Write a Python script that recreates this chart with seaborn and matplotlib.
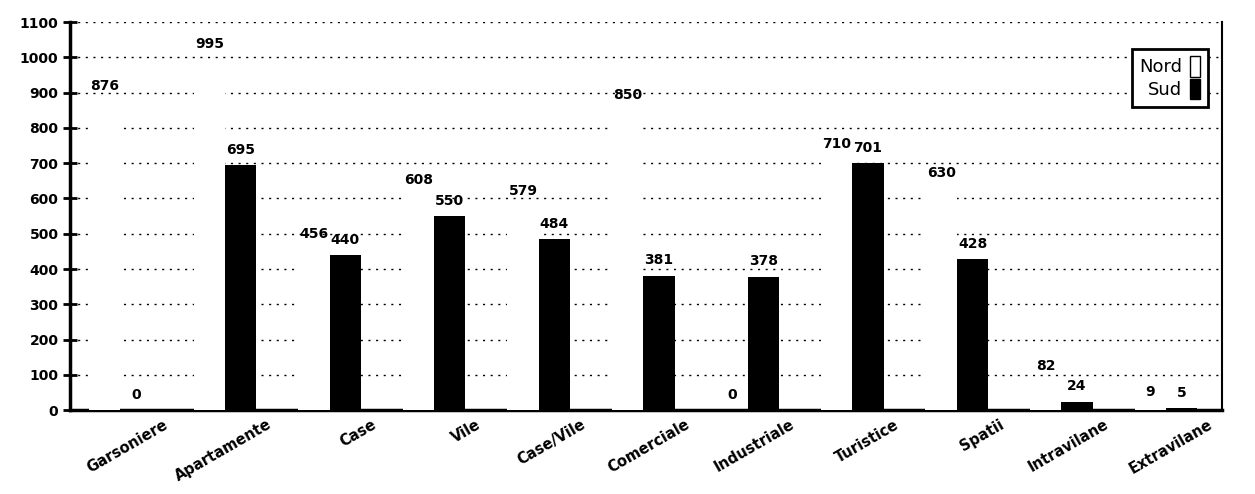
import matplotlib
matplotlib.use("Agg")
import matplotlib.pyplot as plt
import matplotlib.transforms as mtransforms
import seaborn as sns
import pandas as pd
from matplotlib.patches import Patch

categories = ["Garsoniere", "Apartamente", "Case", "Vile", "Case/Vile", "Comerciale",
              "Industriale", "Turistice", "Spatii", "Intravilane", "Extravilane"]
nord = [876, 995, 456, 608, 579, 850, 0, 710, 630, 82, 9]
sud = [0, 695, 440, 550, 484, 381, 378, 701, 428, 24, 5]
yticks = list(range(0, 1101, 100))

df = pd.DataFrame({
    "Categoria": categories * 2,
    "Valore": nord + sud,
    "Zona": ["Nord"] * len(categories) + ["Sud"] * len(categories),
})

sns.set_theme(style="white")
plt.rcParams["font.family"] = ["DejaVu Sans"]
plt.rcParams["text.color"] = "black"
plt.rcParams["xtick.color"] = "black"
plt.rcParams["ytick.color"] = "black"

fig, ax = plt.subplots(figsize=(12.55, 4.94), dpi=100)
fig.subplots_adjust(left=0.056, right=0.974, bottom=0.17, top=0.955)

sns.barplot(data=df, x="Categoria", y="Valore", hue="Zona", order=categories,
            hue_order=["Nord", "Sud"], palette={"Nord": "white", "Sud": "black"},
            width=0.6, edgecolor="none", linewidth=0, ax=ax, legend=False, zorder=3)

for cont in ax.containers:
    ax.bar_label(cont, fmt="%d", padding=6, fontsize=10, fontweight="bold",
                 color="black", zorder=4)

ax.set_ylim(0, 1100)
ax.set_xlim(-0.48, 10.54)
ax.set_yticks(yticks)
ax.set_yticklabels([str(v) for v in yticks], fontsize=10, fontweight="bold", color="black")
ax.yaxis.grid(True, linestyle=(0, (1.5, 4)), color="black", linewidth=1.0, zorder=0)
ax.xaxis.grid(False)
ax.tick_params(axis="y", direction="inout", length=10, width=2, left=True)
ax.tick_params(axis="x", length=0)
ax.set_xticks(range(len(categories)))
ax.set_xticklabels(categories, rotation=30, ha="right", rotation_mode="anchor",
                   fontsize=10.5, fontweight="bold", color="black")
offset = mtransforms.ScaledTranslation(0.42, -0.02, fig.dpi_scale_trans)
for lbl in ax.get_xticklabels():
    lbl.set_transform(lbl.get_transform() + offset)
ax.set_xlabel("")
ax.set_ylabel("")

for side in ["left", "bottom", "right"]:
    ax.spines[side].set_visible(True)
    ax.spines[side].set_color("black")
ax.spines["left"].set_linewidth(2.5)
ax.spines["bottom"].set_linewidth(2.5)
ax.spines["right"].set_linewidth(1.5)
ax.spines["top"].set_visible(False)

handles = [Patch(facecolor="white", edgecolor="black", label="Nord"),
           Patch(facecolor="black", edgecolor="black", label="Sud")]
leg = ax.legend(handles=handles, loc="upper right", bbox_to_anchor=(0.995, 0.955),
                markerfirst=False, frameon=True, fancybox=False, fontsize=13,
                handlelength=0.6, handleheight=1.4, handletextpad=0.4,
                labelspacing=0.1, borderpad=0.4, labelcolor="black", framealpha=1)
leg.get_frame().set_edgecolor("black")
leg.get_frame().set_linewidth(2)

fig.savefig("out.png", dpi=100)
